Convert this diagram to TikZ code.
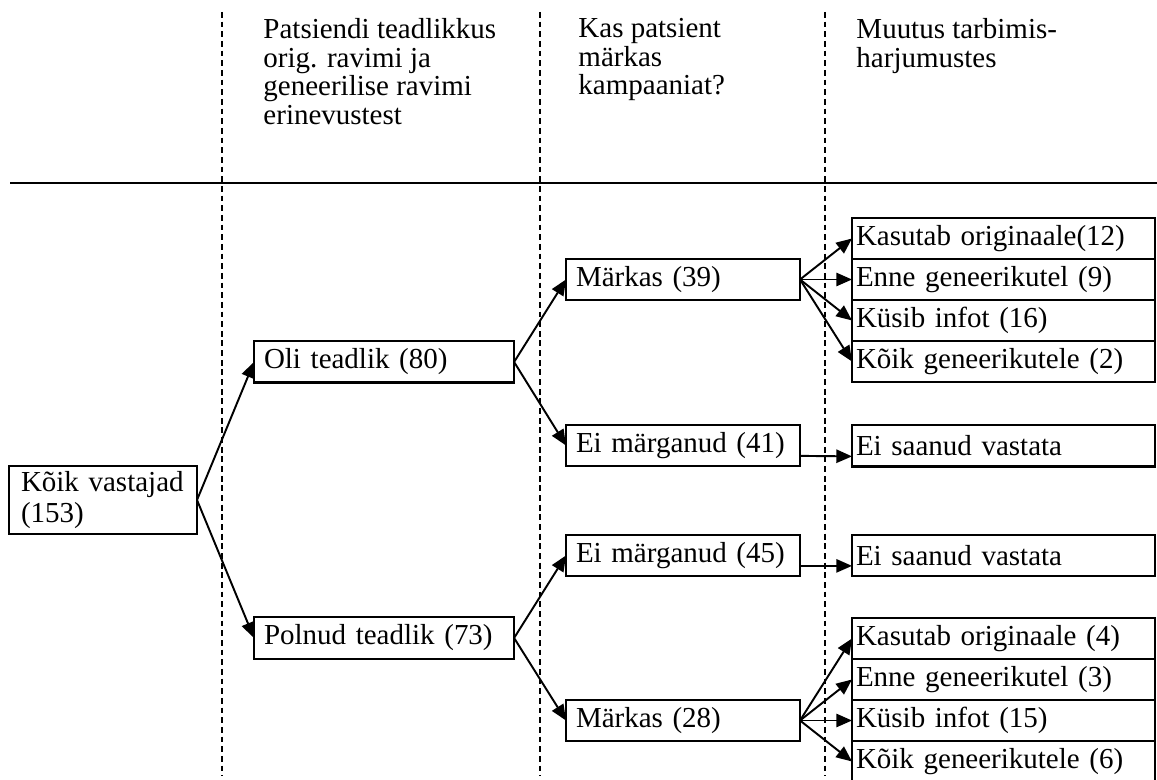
\documentclass[tikz,border=0pt]{standalone}
\usepackage{fontspec}
\setmainfont{Liberation Serif}
\usetikzlibrary{arrows.meta}

\begin{document}
\begin{tikzpicture}[x=0.414pt,y=-0.414pt,
    box/.style={draw, line width=0.85pt, outer sep=0pt, inner ysep=0pt, anchor=west,
        align=left, minimum height=17pt, font=\fontsize{12}{12.8}\selectfont},
    boxa/.style={box, inner xsep=4.14pt, text width=99.4pt},
    boxb/.style={box, inner xsep=4.14pt, text width=88.6pt},
    boxc/.style={box, inner xsep=1.66pt, text width=122.1pt},
    head/.style={anchor=north west, align=left, inner sep=0pt, font=\fontsize{12}{11.8}\selectfont},
    arr/.style={-{Triangle[length=6.5pt,width=5.5pt]}, line width=0.8pt},
    guide/.style={line width=0.85pt, dash pattern=on 2.4pt off 1.6pt}]
    \useasboundingbox (0,0) rectangle (1157,780);

    % column guides and header rule
    \foreach \x in {222,540,825} {
        \draw[guide] (\x,12) -- (\x,776);
    }
    \draw[line width=0.85pt] (10,183) -- (1157,183);

    % headers
    \node[head] (h1) at (263,18) {Patsiendi teadlikkus\\orig. ravimi ja\\geneerilise ravimi\\erinevustest};
    \node[head] (h2) at (578,18) {Kas patsient\\märkas\\kampaaniat?};
    \node[head] (h3) at (856,18) {Muutus tarbimis-\\harjumustes};

    % tree
    \node[box, inner xsep=4.97pt, text width=67.9pt, minimum height=28.2pt] (all) at (9,500) {Kõik vastajad\\(153)};
    \node[boxa] (oli) at (254,362) {Oli teadlik (80)};
    \node[boxa] (pol) at (254,638) {Polnud teadlik (73)};
    \node[boxb] (m39) at (566,279.5) {Märkas (39)};
    \node[boxb] (e41) at (566,445.5) {Ei märganud (41)};
    \node[boxb] (e45) at (566,555.5) {Ei märganud (45)};
    \node[boxb] (m28) at (566,720.5) {Märkas (28)};
    \node[boxc] (s1) at (852,446) {Ei saanud vastata};
    \node[boxc] (s2) at (852,555.5) {Ei saanud vastata};
    \foreach \t [count=\i] in {Kasutab originaale(12), Enne geneerikutel (9), Küsib infot (16), Kõik geneerikutele (2)} {
        \node[boxc] (a\i) at (852,197.5+41*\i) {\t};
    }
    \foreach \t [count=\i] in {Kasutab originaale (4), Enne geneerikutel (3), Küsib infot (15), Kõik geneerikutele (6)} {
        \node[boxc] (b\i) at (852,597.5+41*\i) {\t};
    }

    \draw[arr] (all.east) -- (oli.west);
    \draw[arr] (all.east) -- (pol.west);
    \draw[arr] (oli.east) -- (m39.west);
    \draw[arr] (oli.east) -- (e41.west);
    \draw[arr] (pol.east) -- (e45.west);
    \draw[arr] (pol.east) -- (m28.west);
    \foreach \i in {1,...,4} {
        \draw[arr] (m39.east) -- (a\i.west);
        \draw[arr] (m28.east) -- (b\i.west);
    }
    \draw[arr] ([yshift=-4.3pt]e41.east) -- ([yshift=-4.3pt]s1.west);
    \draw[arr] ([yshift=-4.3pt]e45.east) -- ([yshift=-4.3pt]s2.west);
\end{tikzpicture}
\end{document}
